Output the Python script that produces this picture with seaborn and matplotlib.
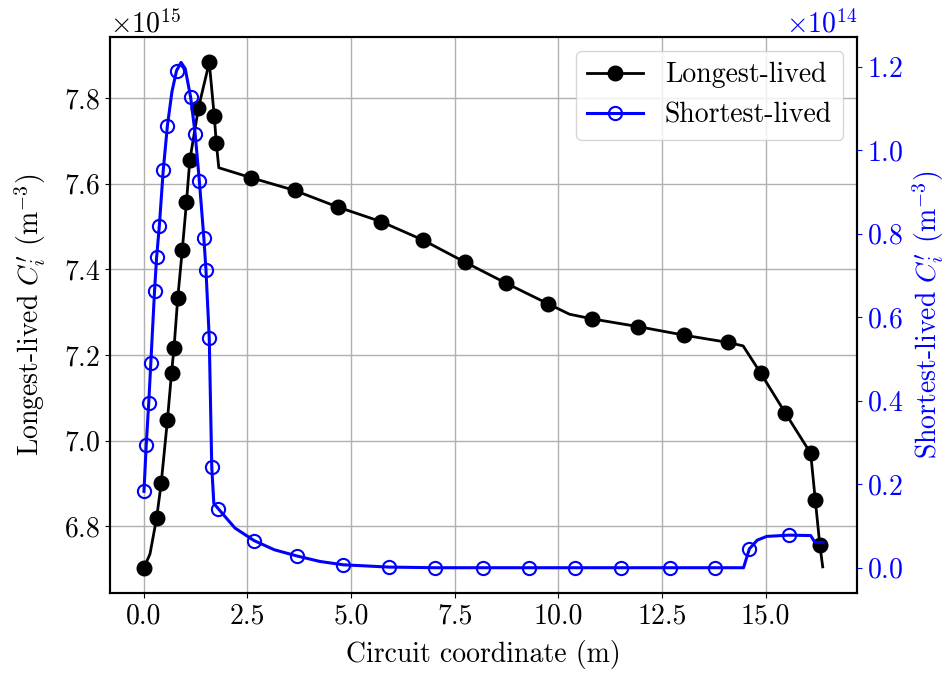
import numpy as np
import pandas as pd
import matplotlib
matplotlib.use("Agg")
import matplotlib.pyplot as plt
from matplotlib.lines import Line2D
import seaborn as sns

# ---- data ----
# Longest-lived, values in units of 1e15 m^-3
long_x = [0.005, 0.15, 0.31, 0.42, 0.57, 0.67, 0.73, 0.82, 0.93, 1.03, 1.11, 1.32,
          1.58, 1.70, 1.75, 1.81, 2.58, 3.64, 4.69, 5.73, 6.74, 7.74, 8.75, 9.76,
          10.27, 10.82, 11.93, 13.04, 14.10, 14.46, 14.88, 15.48, 16.09, 16.20,
          16.31, 16.38]
long_y = [6.703, 6.735, 6.819, 6.900, 7.047, 7.158, 7.217, 7.333, 7.446, 7.556, 7.654, 7.777,
          7.883, 7.758, 7.695, 7.637, 7.614, 7.584, 7.545, 7.511, 7.468, 7.417, 7.367, 7.319,
          7.295, 7.284, 7.266, 7.246, 7.229, 7.221, 7.158, 7.064, 6.970, 6.862,
          6.757, 6.705]
long_marks = [0, 2, 3, 4, 5, 6, 7, 8, 9, 10, 11, 12, 13, 14, 16, 17, 18, 19, 20, 21,
              22, 23, 25, 26, 27, 28, 30, 31, 32, 33, 34]

# Shortest-lived, values in units of 1e14 m^-3
short_x = [0.005, 0.06, 0.12, 0.17, 0.26, 0.31, 0.375, 0.47, 0.57, 0.68, 0.79, 0.90,
           1.00, 1.13, 1.24, 1.34, 1.45, 1.50, 1.58, 1.64, 1.69, 1.80, 2.20, 2.66,
           3.15, 3.70, 4.25, 4.81, 5.92, 7.03, 8.19, 9.29, 10.41, 11.52, 12.69, 13.79,
           14.47, 14.61, 14.80, 15.03, 15.57, 16.09, 16.19, 16.39]
short_y = [0.183, 0.295, 0.395, 0.490, 0.663, 0.743, 0.818, 0.952, 1.058, 1.140, 1.190, 1.210,
           1.195, 1.127, 1.039, 0.927, 0.789, 0.714, 0.549, 0.242, 0.154, 0.141, 0.095, 0.065,
           0.043, 0.028, 0.015, 0.007, 0.0015, 0.0, 0.0, 0.0, 0.0, 0.0, 0.0, 0.0,
           0.0, 0.045, 0.066, 0.075, 0.078, 0.077, 0.061, 0.060]
short_marks = [0, 1, 2, 3, 4, 5, 6, 7, 8, 10, 13, 14, 15, 16, 17, 18, 19, 21, 23, 25,
               27, 28, 29, 30, 31, 32, 33, 34, 35, 37, 40]

long_label = "Longest-lived"
short_label = "Shortest-lived"
x_label = "Circuit coordinate (m)"
left_label = r"Longest-lived $C_i'$ (m$^{-3}$)"
right_label = r"Shortest-lived $C_i'$ (m$^{-3}$)"

# ---- style ----
plt.rcParams["font.family"] = ["cmr10", "DejaVu Serif"]
plt.rcParams["mathtext.fontset"] = "cm"
plt.rcParams["axes.unicode_minus"] = False
plt.rcParams["axes.formatter.use_mathtext"] = True
FS = 20

df_long = pd.DataFrame({"x": long_x, "y": np.array(long_y) * 1e15})
df_short = pd.DataFrame({"x": short_x, "y": np.array(short_y) * 1e14})

fig, ax = plt.subplots(figsize=(9.46, 6.75), dpi=100)
fig.subplots_adjust(left=0.1163, right=0.906, top=0.945, bottom=0.1215)

sns.lineplot(data=df_long, x="x", y="y", ax=ax, sort=False, estimator=None,
             color="black", linewidth=2.0, marker="o", markersize=10.5,
             markevery=long_marks, markeredgecolor="black", markerfacecolor="black",
             markeredgewidth=1.0, legend=False)
ax.grid(True, color="#b0b0b0", linewidth=1.0)
ax.set_axisbelow(True)

ax2 = ax.twinx()
sns.lineplot(data=df_short, x="x", y="y", ax=ax2, sort=False, estimator=None,
             color="blue", linewidth=2.2, marker="o", markersize=9.5,
             markevery=short_marks, markeredgecolor="blue", markerfacecolor="none",
             markeredgewidth=1.5, legend=False)

ax.set_xlabel(x_label, fontsize=FS, labelpad=8)
ax.set_ylabel(left_label, fontsize=FS, labelpad=11)
ax2.set_ylabel(right_label, fontsize=FS, color="blue", labelpad=5)

ax.ticklabel_format(axis="y", style="sci", scilimits=(0, 0), useOffset=False, useMathText=True)
ax2.ticklabel_format(axis="y", style="sci", scilimits=(0, 0), useOffset=False, useMathText=True)

ax.tick_params(axis="both", labelsize=FS)
ax2.tick_params(axis="y", labelsize=FS, colors="blue")
ax.yaxis.get_offset_text().set_fontsize(FS)
ax2.yaxis.get_offset_text().set_fontsize(FS)
ax2.yaxis.get_offset_text().set_color("blue")

ax.set_xticks([0, 2.5, 5, 7.5, 10, 12.5, 15])
ax.set_xticklabels(["0.0", "2.5", "5.0", "7.5", "10.0", "12.5", "15.0"])

for a in (ax, ax2):
    for s in a.spines.values():
        s.set_linewidth(1.5)
        s.set_color("black")

handles = [
    Line2D([], [], color="black", linewidth=2.0, marker="o", markersize=10.5,
           markerfacecolor="black", markeredgecolor="black"),
    Line2D([], [], color="blue", linewidth=2.2, marker="o", markersize=9.5,
           markerfacecolor="none", markeredgecolor="blue", markeredgewidth=1.5),
]
ax2.legend(handles, [long_label, short_label], loc="upper right", fontsize=FS)

fig.savefig("out.png", dpi=100)
